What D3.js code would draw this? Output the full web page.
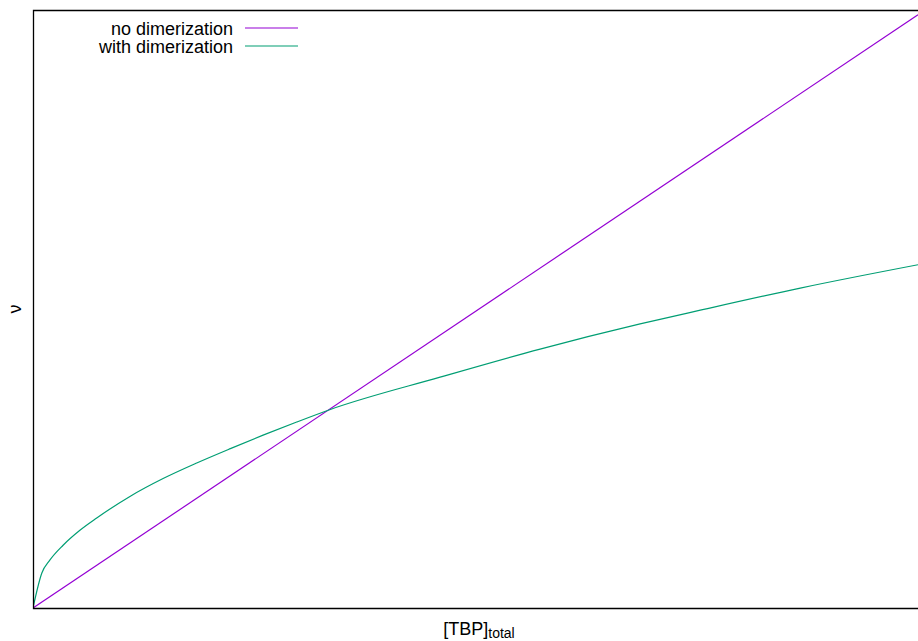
<!DOCTYPE html>
<html>
<head>
<meta charset="utf-8">
<script src="https://cdn.jsdelivr.net/npm/d3@7"></script>
<style>
  body { margin: 0; background: #fff; }
  svg { display: block; font-family: "Liberation Sans", Arial, sans-serif; }
</style>
</head>
<body>
<svg id="canvas" width="918" height="641"></svg>
<script>
// series (x: [TBP]_total, y: nu), arbitrary units
var noDimX = [0, 10];
var noDimY = [0, 9.92];

var withDimX = [0, 0.10, 0.19, 0.34, 0.53, 0.72, 1.10, 1.47, 1.85, 2.23, 2.60, 2.98, 3.36, 4.60, 5.73, 6.86, 7.54, 8.67, 10];
var withDimY = [0, 0.585, 0.80, 1.05, 1.30, 1.505, 1.87, 2.165, 2.425, 2.665, 2.89, 3.11, 3.32, 3.86, 4.33, 4.75, 4.98, 5.35, 5.74];

var seriesNames = ["no dimerization", "with dimerization"];
var seriesColors = ["#9400d3", "#009e73"];

var svg = d3.select("#canvas");
var margin = {left: 33, top: 10, bottom: 608, right: 918};

var x = d3.scaleLinear().domain([0, 10]).range([margin.left, margin.right]);
var y = d3.scaleLinear().domain([0, 10]).range([margin.bottom, margin.top]);

svg.append("clipPath").attr("id", "clip")
	.append("rect")
	.attr("x", margin.left).attr("y", margin.top)
	.attr("width", 1000).attr("height", margin.bottom - margin.top);

var line = d3.line()
	.curve(d3.curveMonotoneX)
	.x(function(d) { return x(d[0]); })
	.y(function(d) { return y(d[1]); });

var series = [
	d3.zip(noDimX, noDimY),
	d3.zip(withDimX, withDimY)
];

svg.append("g").attr("clip-path", "url(#clip)")
	.selectAll("path")
	.data(series)
	.enter().append("path")
	.attr("d", line)
	.attr("fill", "none")
	.attr("stroke", function(d, i) { return seriesColors[i]; })
	.attr("stroke-width", 1.2);

// frame (right side falls outside the window)
svg.append("path")
	.attr("d", "M" + (margin.right + 5) + "," + (margin.top + 0.5) +
		"H" + (margin.left + 0.5) + "V" + (margin.bottom + 0.5) +
		"H" + (margin.right + 5))
	.attr("fill", "none")
	.attr("stroke", "#000")
	.attr("stroke-width", 1.3);

// key
var key = svg.append("g").selectAll("g")
	.data(seriesNames)
	.enter().append("g")
	.attr("transform", function(d, i) { return "translate(0," + (28 + i * 18) + ")"; });

key.append("text")
	.attr("x", 233)
	.attr("y", 7)
	.attr("text-anchor", "end")
	.attr("font-size", 18)
	.text(function(d) { return d; });

key.append("line")
	.attr("x1", 245).attr("x2", 298)
	.attr("y1", 0).attr("y2", 0)
	.attr("stroke", function(d, i) { return seriesColors[i]; })
	.attr("stroke-width", 1.2);

// axis labels
var xl = svg.append("text")
	.attr("x", 479)
	.attr("y", 635)
	.attr("text-anchor", "middle")
	.attr("font-size", 18);
xl.append("tspan").text("[TBP]");
xl.append("tspan").attr("font-size", 14).attr("dy", 3).text("total");

svg.append("text")
	.attr("transform", "translate(21,309) rotate(-90)")
	.attr("text-anchor", "middle")
	.attr("font-size", 18)
	.text("ν");
</script>
</body>
</html>
